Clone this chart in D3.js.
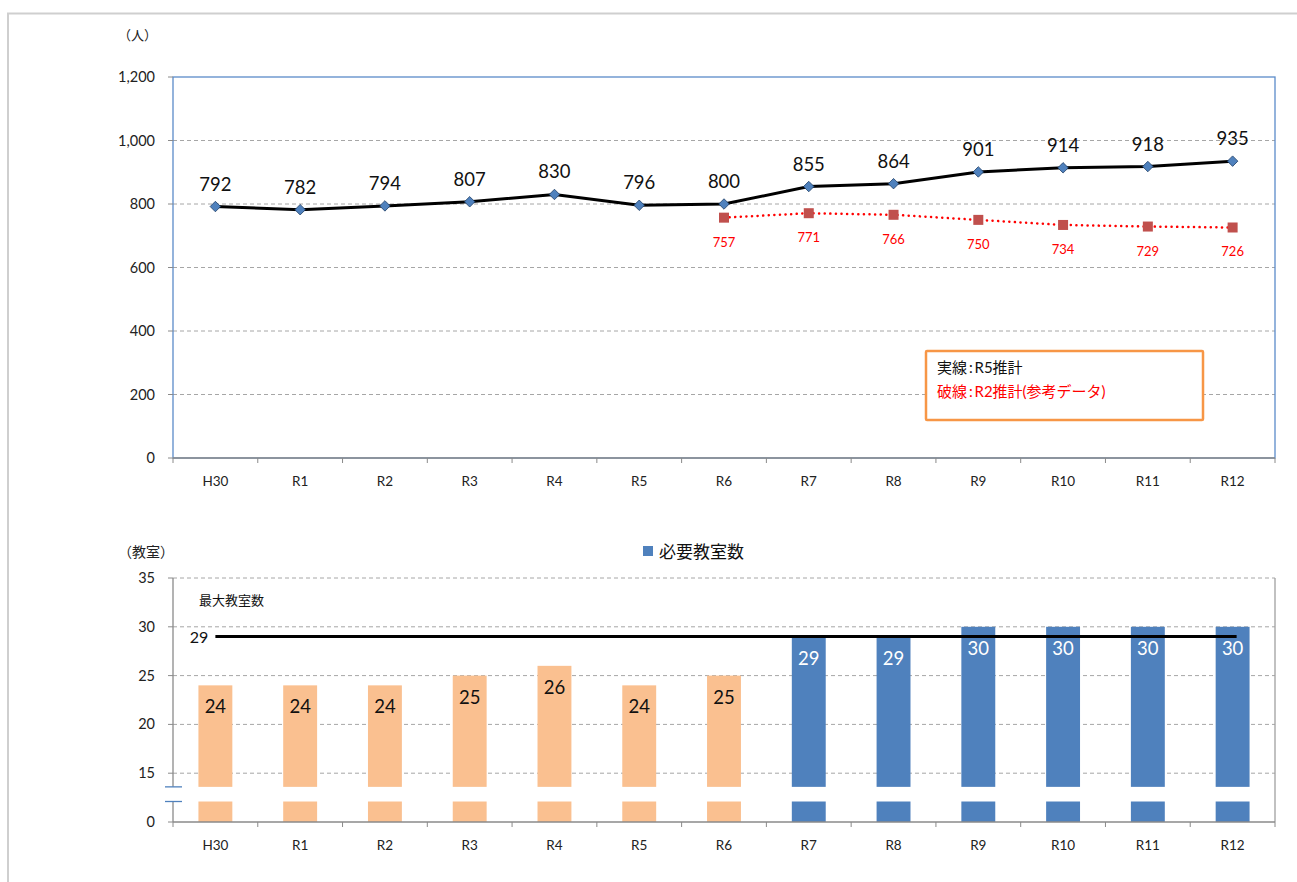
<!DOCTYPE html>
<html>
<head>
<meta charset="utf-8">
<script src="https://cdn.jsdelivr.net/npm/d3@7"></script>
<style>
  body { margin: 0; background: #fff; }
  svg { display: block; font-family: Lato, "Noto Sans CJK JP", sans-serif; }
</style>
</head>
<body>
<svg id="visualization" width="1297" height="882"></svg>
<script>
const categories = ["H30", "R1", "R2", "R3", "R4", "R5", "R6", "R7", "R8", "R9", "R10", "R11", "R12"];
const estimateR5 = [792, 782, 794, 807, 830, 796, 800, 855, 864, 901, 914, 918, 935];
const estimateR2 = [null, null, null, null, null, null, 757, 771, 766, 750, 734, 729, 726];
const classrooms = [24, 24, 24, 25, 26, 24, 25, 29, 29, 30, 30, 30, 30];
const projectedFrom = "R7";
const maxClassrooms = 29;
const peopleTicks = [0, 200, 400, 600, 800, 1000, 1200];
const roomTicks = [10, 15, 20, 25, 30, 35];

const svg = d3.select("#visualization");

// outer frame
svg.append("path")
    .attr("d", "M8,882V13.5H1297")
    .attr("fill", "none")
    .attr("stroke", "#cfcfcf")
    .attr("stroke-width", 2);

const plotLeft = 173, plotRight = 1275;

const xScale = d3.scaleBand()
    .domain(categories)
    .range([plotLeft, plotRight]);
const cx = c => xScale(c) + xScale.bandwidth() / 2;

// ---------- top chart ----------
const yTop = d3.scaleLinear().domain([0, 1200]).range([458, 77]);

svg.selectAll(".grid-top")
    .data(peopleTicks.filter(d => d > 0 && d < 1200))
    .join("line")
    .attr("class", "grid-top")
    .attr("x1", plotLeft).attr("x2", plotRight)
    .attr("y1", d => yTop(d)).attr("y2", d => yTop(d))
    .attr("stroke", "#a6a6a6")
    .attr("stroke-dasharray", "4,3");

svg.append("rect")
    .attr("x", plotLeft).attr("y", yTop(1200))
    .attr("width", plotRight - plotLeft).attr("height", yTop(0) - yTop(1200))
    .attr("fill", "none")
    .attr("stroke", "#5b8bc9")
    .attr("stroke-width", 1.3);

svg.selectAll(".ylab-top")
    .data(peopleTicks)
    .join("text")
    .attr("class", "ylab-top")
    .attr("x", 155)
    .attr("y", d => yTop(d) + 5)
    .attr("text-anchor", "end")
    .attr("font-size", 14.5)
    .attr("fill", "#222")
    .text(d => d3.format(",")(d));

svg.selectAll(".ytick-top")
    .data(peopleTicks)
    .join("line")
    .attr("class", "ytick-top")
    .attr("x1", plotLeft - 5).attr("x2", plotLeft)
    .attr("y1", d => yTop(d)).attr("y2", d => yTop(d))
    .attr("stroke", "#8a8a8a");

svg.append("text")
    .attr("x", 118).attr("y", 40)
    .attr("font-size", 13)
    .attr("fill", "#222")
    .text("（人）");

const drawXAxis = (y0) => {
    svg.append("line")
        .attr("x1", plotLeft).attr("x2", plotRight)
        .attr("y1", y0).attr("y2", y0)
        .attr("stroke", "#8a8a8a")
        .attr("stroke-width", 1.3);
    svg.append("g").selectAll("line")
        .data(categories.concat([null]))
        .join("line")
        .attr("x1", (d, i) => plotLeft + i * xScale.bandwidth())
        .attr("x2", (d, i) => plotLeft + i * xScale.bandwidth())
        .attr("y1", y0).attr("y2", y0 + 5)
        .attr("stroke", "#8a8a8a");
    svg.append("g").selectAll("text")
        .data(categories)
        .join("text")
        .attr("x", d => cx(d))
        .attr("y", y0 + 28)
        .attr("text-anchor", "middle")
        .attr("font-size", 13.5)
        .attr("fill", "#222")
        .text(d => d);
};
drawXAxis(yTop(0));

// R2 estimate (dotted red)
const r2Data = categories.map((c, i) => ({ c, v: estimateR2[i] })).filter(d => d.v !== null);
svg.append("path")
    .datum(r2Data)
    .attr("fill", "none")
    .attr("stroke", "#ff0000")
    .attr("stroke-width", 2.5)
    .attr("stroke-linecap", "round")
    .attr("stroke-dasharray", "0.1,5.5")
    .attr("d", d3.line().x(d => cx(d.c)).y(d => yTop(d.v)));

svg.selectAll(".r2-mark")
    .data(r2Data)
    .join("rect")
    .attr("class", "r2-mark")
    .attr("x", d => cx(d.c) - 5).attr("y", d => yTop(d.v) - 5)
    .attr("width", 10).attr("height", 10)
    .attr("fill", "#c0504d");

svg.selectAll(".r2-label")
    .data(r2Data)
    .join("text")
    .attr("class", "r2-label")
    .attr("x", d => cx(d.c))
    .attr("y", d => yTop(d.v) + 29)
    .attr("text-anchor", "middle")
    .attr("font-size", 13)
    .attr("fill", "#ff0000")
    .text(d => d.v);

// R5 estimate (solid black)
const r5Data = categories.map((c, i) => ({ c, v: estimateR5[i] }));
svg.append("path")
    .datum(r5Data)
    .attr("fill", "none")
    .attr("stroke", "#000")
    .attr("stroke-width", 3)
    .attr("d", d3.line().x(d => cx(d.c)).y(d => yTop(d.v)));

svg.selectAll(".r5-mark")
    .data(r5Data)
    .join("path")
    .attr("class", "r5-mark")
    .attr("d", d3.symbol(d3.symbolDiamond2, 70))
    .attr("transform", d => `translate(${cx(d.c)},${yTop(d.v)})`)
    .attr("fill", "#4f81bd")
    .attr("stroke", "#1f3f66")
    .attr("stroke-width", 0.8);

svg.selectAll(".r5-label")
    .data(r5Data)
    .join("text")
    .attr("class", "r5-label")
    .attr("x", d => cx(d.c))
    .attr("y", d => yTop(d.v) - 16)
    .attr("text-anchor", "middle")
    .attr("font-size", 18.5)
    .attr("fill", "#111")
    .text(d => d.v);

// legend note box
const note = svg.append("g").attr("transform", "translate(926,351)");
note.append("rect")
    .attr("width", 277).attr("height", 69)
    .attr("fill", "#fff")
    .attr("stroke", "#f79646")
    .attr("stroke-width", 2.5)
    .attr("rx", 1);
note.append("text")
    .attr("x", 11).attr("y", 22)
    .attr("font-size", 15)
    .attr("fill", "#111")
    .text("実線\u2009:\u2009R5推計");
note.append("text")
    .attr("x", 11).attr("y", 46)
    .attr("font-size", 15)
    .attr("fill", "#ff0000")
    .text("破線\u2009:\u2009R2推計(参考データ)");

// ---------- bottom chart ----------
const yBot = d3.scaleLinear().domain([10, 35]).range([822, 578]);
const breakLow = 12.1, breakHigh = 13.6;

svg.selectAll(".grid-bot")
    .data(roomTicks.filter(d => d > 10))
    .join("line")
    .attr("class", "grid-bot")
    .attr("x1", plotLeft).attr("x2", plotRight)
    .attr("y1", d => yBot(d)).attr("y2", d => yBot(d))
    .attr("stroke", "#a6a6a6")
    .attr("stroke-dasharray", "4,3");

svg.append("line")
    .attr("x1", plotRight).attr("x2", plotRight)
    .attr("y1", yBot(35)).attr("y2", yBot(10))
    .attr("stroke", "#a0a0a0")
    .attr("stroke-width", 1.3);

const barW = xScale.bandwidth() * 0.4;
const barData = categories.map((c, i) => ({ c, v: classrooms[i], proj: i >= categories.indexOf(projectedFrom) }));

svg.selectAll(".bar-top")
    .data(barData)
    .join("rect")
    .attr("class", "bar-top")
    .attr("x", d => cx(d.c) - barW / 2)
    .attr("y", d => yBot(d.v))
    .attr("width", barW)
    .attr("height", d => yBot(breakHigh) - yBot(d.v))
    .attr("fill", d => d.proj ? "#4f81bd" : "#fac090");

svg.selectAll(".bar-bot")
    .data(barData)
    .join("rect")
    .attr("class", "bar-bot")
    .attr("x", d => cx(d.c) - barW / 2)
    .attr("y", yBot(breakLow))
    .attr("width", barW)
    .attr("height", yBot(10) - yBot(breakLow))
    .attr("fill", d => d.proj ? "#4f81bd" : "#fac090");

// left axis with break
svg.append("line")
    .attr("x1", plotLeft).attr("x2", plotLeft)
    .attr("y1", yBot(35)).attr("y2", yBot(breakHigh))
    .attr("stroke", "#8a8a8a").attr("stroke-width", 1.3);
svg.append("line")
    .attr("x1", plotLeft).attr("x2", plotLeft)
    .attr("y1", yBot(breakLow)).attr("y2", yBot(10))
    .attr("stroke", "#8a8a8a").attr("stroke-width", 1.3);
svg.selectAll(".break-mark")
    .data([breakHigh, breakLow])
    .join("line")
    .attr("class", "break-mark")
    .attr("x1", plotLeft - 8).attr("x2", plotLeft + 9)
    .attr("y1", d => yBot(d)).attr("y2", d => yBot(d))
    .attr("stroke", "#4f81bd")
    .attr("stroke-width", 1.3);

svg.selectAll(".ytick-bot")
    .data(roomTicks)
    .join("line")
    .attr("class", "ytick-bot")
    .attr("x1", plotLeft - 5).attr("x2", plotLeft)
    .attr("y1", d => yBot(d)).attr("y2", d => yBot(d))
    .attr("stroke", "#8a8a8a");

svg.selectAll(".ylab-bot")
    .data(roomTicks)
    .join("text")
    .attr("class", "ylab-bot")
    .attr("x", 155)
    .attr("y", d => yBot(d) + 5)
    .attr("text-anchor", "end")
    .attr("font-size", 14.5)
    .attr("fill", "#222")
    .text(d => d === 10 ? "0" : d);

drawXAxis(yBot(10));

svg.selectAll(".bar-label")
    .data(barData)
    .join("text")
    .attr("class", "bar-label")
    .attr("x", d => cx(d.c))
    .attr("y", d => yBot(d.v) + 28)
    .attr("text-anchor", "middle")
    .attr("font-size", 18.5)
    .attr("fill", d => d.proj ? "#fff" : "#111")
    .text(d => d.v);

// max classroom line
svg.append("line")
    .attr("x1", cx(categories[0])).attr("x2", cx(categories[categories.length - 1]) + 4)
    .attr("y1", yBot(maxClassrooms)).attr("y2", yBot(maxClassrooms))
    .attr("stroke", "#000")
    .attr("stroke-width", 3);
svg.append("text")
    .attr("x", 199).attr("y", yBot(maxClassrooms) + 6)
    .attr("text-anchor", "middle")
    .attr("font-size", 16)
    .attr("fill", "#111")
    .text(maxClassrooms);
svg.append("text")
    .attr("x", 199).attr("y", 605)
    .attr("font-size", 13)
    .attr("fill", "#111")
    .text("最大教室数");

svg.append("text")
    .attr("x", 118).attr("y", 557)
    .attr("font-size", 14)
    .attr("fill", "#222")
    .text("（教室）");

// legend
svg.append("rect")
    .attr("x", 643).attr("y", 546)
    .attr("width", 10).attr("height", 10)
    .attr("fill", "#4f81bd");
svg.append("text")
    .attr("x", 659).attr("y", 558)
    .attr("font-size", 17)
    .attr("fill", "#111")
    .text("必要教室数");
</script>
</body>
</html>
